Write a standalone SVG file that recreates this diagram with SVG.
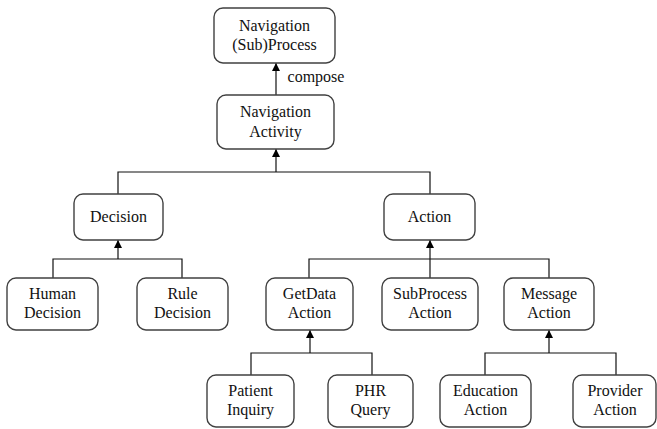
<svg xmlns="http://www.w3.org/2000/svg" width="657" height="429" viewBox="0 0 657 429">
  <defs>
    <marker id="arrow" viewBox="0 0 8 10" refX="8" refY="5" markerWidth="8" markerHeight="10" markerUnits="userSpaceOnUse" orient="auto">
      <path d="M0,1 L8,5 L0,9 Z" fill="#000"/>
    </marker>
    <style>
      .box { fill: #fff; stroke: #404040; stroke-width: 1.4; }
      text { font-family: "Liberation Serif", Tinos, "Times New Roman", Times, "DejaVu Serif", serif; font-size: 16px; fill: #111; text-anchor: middle; }
      .edge { fill: none; stroke: #111; stroke-width: 1.2; }
    </style>
  </defs>
  <rect width="657" height="429" fill="#fff"/>

  <!-- connectors -->
  <g id="connectors">
    <path class="edge" d="M276,95 V63" marker-end="url(#arrow)"/>
    <text x="316" y="82" font-family="Liberation Serif">compose</text>

    <path class="edge" d="M118,194 V172 H430 V194"/>
    <path class="edge" d="M276,172 V149" marker-end="url(#arrow)"/>

    <path class="edge" d="M53,278 V259 H182 V278"/>
    <path class="edge" d="M118,259 V240" marker-end="url(#arrow)"/>

    <path class="edge" d="M309,278 V259 H549 V278"/>
    <path class="edge" d="M430,278 V240" marker-end="url(#arrow)"/>

    <path class="edge" d="M251,375 V353 H372 V375"/>
    <path class="edge" d="M310,353 V330" marker-end="url(#arrow)"/>

    <path class="edge" d="M485,375 V353 H616 V375"/>
    <path class="edge" d="M549,353 V330" marker-end="url(#arrow)"/>
  </g>

  <!-- nodes -->
  <g id="nav-process">
    <rect class="box" x="214" y="8" width="121" height="55" rx="9"/>
    <text x="274.5" y="31">Navigation</text>
    <text x="274.5" y="50">(Sub)Process</text>
  </g>
  <g id="nav-activity">
    <rect class="box" x="217" y="95" width="117" height="54" rx="9"/>
    <text x="275.5" y="117">Navigation</text>
    <text x="275.5" y="137">Activity</text>
  </g>
  <g id="decision">
    <rect class="box" x="74" y="194" width="89" height="46" rx="9"/>
    <text x="118.5" y="222">Decision</text>
  </g>
  <g id="action">
    <rect class="box" x="384" y="194" width="91" height="46" rx="9"/>
    <text x="429.5" y="222">Action</text>
  </g>
  <g id="human-decision">
    <rect class="box" x="7" y="278" width="91" height="52" rx="9"/>
    <text x="52.5" y="299">Human</text>
    <text x="52.5" y="318">Decision</text>
  </g>
  <g id="rule-decision">
    <rect class="box" x="137" y="278" width="91" height="52" rx="9"/>
    <text x="182.5" y="299">Rule</text>
    <text x="182.5" y="318">Decision</text>
  </g>
  <g id="getdata-action">
    <rect class="box" x="266" y="278" width="87" height="52" rx="9"/>
    <text x="309.5" y="299">GetData</text>
    <text x="309.5" y="318">Action</text>
  </g>
  <g id="subprocess-action">
    <rect class="box" x="382" y="278" width="96" height="52" rx="9"/>
    <text x="430" y="299">SubProcess</text>
    <text x="430" y="318">Action</text>
  </g>
  <g id="message-action">
    <rect class="box" x="504" y="278" width="90" height="52" rx="9"/>
    <text x="549" y="299">Message</text>
    <text x="549" y="318">Action</text>
  </g>
  <g id="patient-inquiry">
    <rect class="box" x="207" y="375" width="87" height="52" rx="9"/>
    <text x="250.5" y="396">Patient</text>
    <text x="250.5" y="415">Inquiry</text>
  </g>
  <g id="phr-query">
    <rect class="box" x="328" y="375" width="85" height="52" rx="9"/>
    <text x="370.5" y="396">PHR</text>
    <text x="370.5" y="415">Query</text>
  </g>
  <g id="education-action">
    <rect class="box" x="440" y="375" width="91" height="52" rx="9"/>
    <text x="485.5" y="396">Education</text>
    <text x="485.5" y="415">Action</text>
  </g>
  <g id="provider-action">
    <rect class="box" x="573" y="375" width="83" height="52" rx="9"/>
    <text x="615" y="396">Provider</text>
    <text x="615" y="415">Action</text>
  </g>
</svg>
